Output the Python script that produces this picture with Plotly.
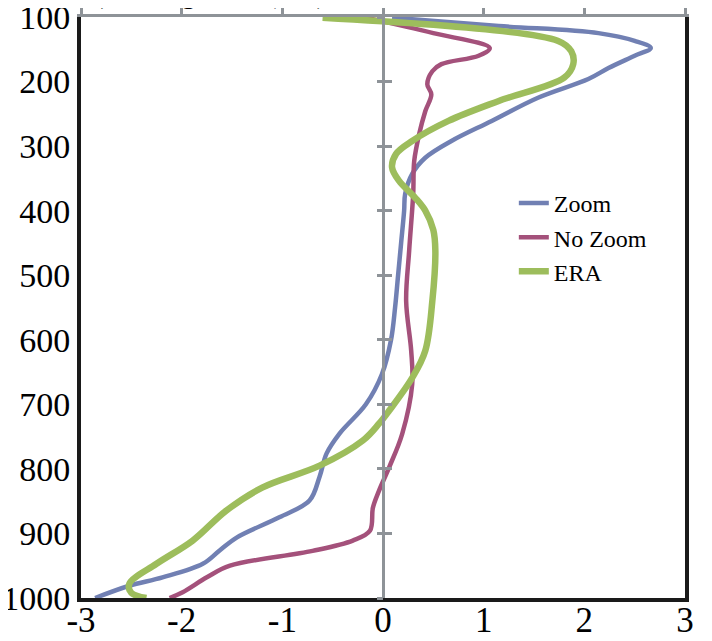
import plotly.graph_objects as go

# ---- data (pressure levels in hPa, values in x units) ----
zoom_p = [101, 114, 125, 137, 148, 160, 179, 196, 225, 261, 292, 318, 343, 374, 400, 450,
          500, 550, 600, 653, 700, 745, 776, 812, 849, 875, 906, 926, 947, 968, 981, 1000]
zoom_v = [0.09, 1.15, 2.14, 2.5, 2.66, 2.5, 2.24, 2.04, 1.54, 1.08, 0.68, 0.42, 0.29, 0.22, 0.21, 0.18,
          0.15, 0.12, 0.08, -0.01, -0.17, -0.43, -0.56, -0.63, -0.73, -1.03, -1.45, -1.62, -1.79, -2.19, -2.52, -2.86]

nozoom_p = [101, 125, 148, 160, 173, 184, 204, 220, 246, 281, 323, 374, 462, 540, 617, 669,
            746, 798, 834, 860, 896, 911, 927, 950, 968, 991, 1000]
nozoom_v = [-0.17, 0.5, 1.06, 0.95, 0.58, 0.49, 0.44, 0.48, 0.42, 0.36, 0.31, 0.30, 0.26, 0.23, 0.28, 0.29,
            0.19, 0.06, -0.04, -0.1, -0.13, -0.3, -0.7, -1.52, -1.75, -1.99, -2.12]

era_p = [101, 137, 153, 173, 194, 230, 261, 292, 312, 333, 354, 380, 400, 430, 462, 540, 617,
         659, 710, 730, 756, 795, 829, 865, 911, 947, 978, 992, 1000]
era_v = [-0.6, 1.74, 1.87, 1.89, 1.8, 1.15, 0.65, 0.29, 0.13, 0.09, 0.16, 0.32, 0.42, 0.5, 0.52, 0.49, 0.42,
         0.29, 0.06, -0.04, -0.2, -0.63, -1.2, -1.56, -1.89, -2.25, -2.52, -2.5, -2.35]

series_names = ["Zoom", "No Zoom", "ERA"]
series_colors = ["#7180b3", "#a4517b", "#9dbd5c"]
series_widths = [4.5, 4.5, 6.5]

x_tickvals = [-3, -2, -1, 0, 1, 2, 3]
x_ticktext = ["-3", "-2", "-1", "0", "1", "2", "3"]
y_tickvals = [100, 200, 300, 400, 500, 600, 700, 800, 900, 1000]
y_ticktext = ["100", "200", "300", "400", "500", "600", "700", "800", "900", "1000"]

title_text = "a) Average bias (m/s)"

FONT = "Liberation Serif"
GRAY = "#8e9398"

fig = go.Figure()
for name, xs, ys, col, w in zip(series_names, [zoom_v, nozoom_v, era_v], [zoom_p, nozoom_p, era_p],
                                series_colors, series_widths):
    fig.add_trace(go.Scatter(x=xs, y=ys, mode="lines", name=name,
                             line=dict(color=col, width=w, shape="spline", smoothing=1.0),
                             cliponaxis=True))

# empty helper traces so the overlay axes (gray crossing axes) get drawn
fig.add_trace(go.Scatter(x=[], y=[], xaxis="x2", yaxis="y", showlegend=False, hoverinfo="skip"))
fig.add_trace(go.Scatter(x=[], y=[], xaxis="x", yaxis="y2", showlegend=False, hoverinfo="skip"))
fig.add_trace(go.Scatter(x=[], y=[], xaxis="x", yaxis="y3", showlegend=False, hoverinfo="skip"))

# page body has an 8px default margin, so the figure is 8px smaller than the window
fig.update_layout(
    width=704, height=633,
    margin=dict(l=73, r=27, t=9, b=43, pad=0, autoexpand=False),
    plot_bgcolor="white", paper_bgcolor="white",
    font=dict(family=FONT, color="black"),
    xaxis=dict(range=[-3, 3], tickvals=x_tickvals, ticktext=x_ticktext,
               showline=True, linecolor="#1a1a1a", linewidth=4, ticks="",
               showgrid=False, zeroline=False, automargin=False,
               ticklabeloverflow="allow", ticklabelstandoff=-12,
               tickfont=dict(family=FONT, size=35, color="black")),
    yaxis=dict(range=[1000, 100], tickvals=y_tickvals, ticktext=y_ticktext,
               showline=True, linecolor="#1a1a1a", linewidth=4, mirror=True, ticks="",
               showgrid=False, zeroline=False, ticklabelstandoff=0, automargin=False,
               ticklabeloverflow="allow",
               tickfont=dict(family=FONT, size=34, color="black")),
    xaxis2=dict(range=[-3, 3], overlaying="x", side="top", anchor="y",
                tickvals=x_tickvals, showticklabels=False, automargin=False,
                showline=True, linecolor=GRAY, linewidth=3,
                ticks="outside", ticklen=7, tickwidth=3, tickcolor=GRAY,
                showgrid=False, zeroline=False),
    yaxis2=dict(range=[1000, 100], overlaying="y", anchor="free", position=0.5, side="left",
                tickvals=y_tickvals, showticklabels=False, automargin=False,
                showline=True, linecolor=GRAY, linewidth=3,
                ticks="inside", ticklen=7, tickwidth=3, tickcolor=GRAY,
                showgrid=False, zeroline=False),
    yaxis3=dict(range=[1000, 100], overlaying="y", anchor="free", position=0.5, side="left",
                tickvals=y_tickvals, showticklabels=False, automargin=False,
                showline=False,
                ticks="outside", ticklen=6, tickwidth=3, tickcolor=GRAY,
                showgrid=False, zeroline=False),
    legend=dict(x=0.7166, y=0.718, xanchor="left", yanchor="top",
                bgcolor="rgba(0,0,0,0)", borderwidth=0,
                font=dict(family=FONT, size=24, color="black"),
                tracegroupgap=0),
    showlegend=True,
)

fig.add_annotation(text=title_text, xref="paper", yref="paper", x=0.0, y=1.0,
                   xanchor="left", yanchor="bottom", yshift=6, xshift=5,
                   showarrow=False, font=dict(family=FONT, size=28, color="black"))

fig.write_html("out.html")
